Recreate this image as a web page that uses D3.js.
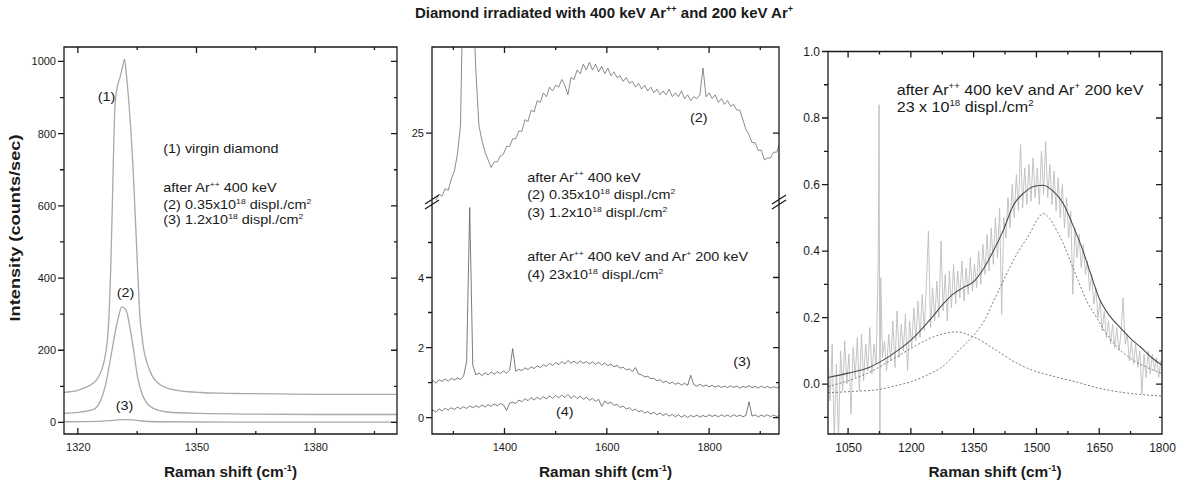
<html>
<head>
  <title>Diamond irradiated with 400 keV Ar++ and 200 keV Ar+</title>
  <script src="https://d3js.org/d3.v7.min.js"></script>
  <style>
    body { margin: 0; background: #fff; }
    svg text { font-family: 'Liberation Sans', Arial, sans-serif; fill: #1a1a1a; }
    .frame { fill: none; stroke: #1a1a1a; stroke-width: 1.3; }
    .spec-light { fill: none; stroke: #a9a9a9; stroke-width: 1.3; }
    .spec-dark { fill: none; stroke: #5a5a5a; stroke-width: 0.8; }
    .spec-noisy { fill: none; stroke: #bdbdbd; stroke-width: 0.9; }
    .fit { fill: none; stroke: #4a4a4a; stroke-width: 1.1; }
    .comp { fill: none; stroke: #7a7a7a; stroke-width: 1; stroke-dasharray: 2,2; }
  </style>
</head>
<body>
<svg id="chart" width="1179" height="488"></svg>

<script type="text/javascript">

  /*--- Left panel: first-order diamond line (counts/sec) ---*/
  var virgin = [[1316.5,83],[1318,85],[1320,89],[1322,97],[1324,110],[1325,122],[1326,145],[1327,190],
    [1327.7,260],[1328.3,420],[1328.8,640],[1329.4,880],[1330,930],[1330.7,957],[1331.3,985],[1331.8,1006],
    [1332.3,960],[1332.8,900],[1333.4,810],[1333.9,717],[1334.4,600],[1334.9,477],[1335.3,380],[1335.7,292],
    [1336.2,240],[1336.7,200],[1337.5,165],[1338.7,131],[1340,112],[1341,103],[1343,94],[1345,89],[1348,85],
    [1351,83],[1356,81],[1362,80],[1370,79],[1380,78],[1390,78],[1400.7,78]];
  var dose035 = [[1316.5,25],[1320,28],[1322,31],[1324,36],[1325.6,57],[1326.9,99],[1328.2,173],[1329.4,247],
    [1330.3,293],[1331.1,320],[1332.2,311],[1333.2,260],[1334.1,200],[1335.1,126],[1336.2,80],[1337.5,53],
    [1339.1,39],[1342.5,29],[1351,25],[1365,23],[1380,22],[1400.7,22]];
  var dose12 = [[1316.5,2],[1325,3],[1328,5],[1330,7],[1332,8],[1334,7],[1336,4],[1340,2],[1360,1],[1400.7,1]];

  var leftXMajor = [1320, 1350, 1380], leftXMinor = [1335, 1365, 1395];
  var leftYMajor = [0, 200, 400, 600, 800, 1000], leftYMinor = [100, 300, 500, 700, 900];

  /*--- Middle panel: shared Raman shift grid ---*/
  var midX = [1258,1260,1266,1272,1278,1284,1290,1296,1302,1308,
    1314,1320,1326,1332,1338,1344,1350,1356,1362,1368,
    1374,1380,1386,1392,1398,1404,1410,1416,1422,1428,
    1434,1440,1446,1452,1458,1464,1470,1476,1482,1488,
    1494,1500,1506,1512,1518,1524,1530,1536,1542,1548,
    1554,1560,1566,1572,1578,1584,1590,1596,1602,1608,
    1614,1620,1626,1632,1638,1644,1650,1656,1662,1668,
    1674,1680,1686,1692,1698,1704,1710,1716,1722,1728,
    1734,1740,1746,1752,1758,1764,1770,1776,1782,1788,
    1794,1800,1806,1812,1818,1824,1830,1836,1842,1848,
    1854,1860,1866,1872,1878,1884,1890,1896,1902,1908,
    1914,1920,1926,1932,1937];
  // (2) 0.35x10^18, upper part of the broken axis
  var mid2 = [21.3,21.4,21.5,21.8,21.7,22.1,22.0,22.6,23.0,23.9,
    25.4,34.2,60,320,32.3,28.3,25.4,24.6,24.0,23.6,
    23.2,23.5,23.5,23.8,23.9,24.3,24.3,24.7,24.7,25.1,
    25.1,25.7,25.6,26.2,26.1,26.7,26.6,27.1,26.9,27.4,
    27.2,27.5,27.4,27.8,27.5,27.0,27.9,27.8,28.3,28.1,
    28.6,28.3,28.7,28.3,28.6,28.2,28.5,28.1,28.4,28.0,
    28.2,27.9,28.0,27.7,27.9,27.6,27.7,27.4,27.6,27.3,
    27.5,27.2,27.4,27.1,27.3,27.0,27.2,27.0,27.3,26.9,
    27.1,26.9,27.2,26.8,27.0,26.7,26.9,26.8,27.0,28.4,
    26.9,27.1,26.8,27.0,26.6,26.8,26.5,26.7,26.4,26.5,
    26.2,26.2,25.7,25.2,24.9,24.5,24.5,24.1,24.1,23.6,
    23.7,23.7,24.0,24.0,24.4];
  // (3) 1.2x10^18, lower part
  var mid3 = [1.00,1.06,0.98,1.08,1.03,1.10,1.04,1.12,1.07,1.13,
    1.09,1.18,1.60,6.00,1.50,1.22,1.27,1.20,1.28,1.22,
    1.30,1.24,1.31,1.26,1.33,1.27,1.35,1.97,1.32,1.38,
    1.34,1.42,1.37,1.45,1.40,1.48,1.43,1.51,1.46,1.55,
    1.49,1.57,1.51,1.60,1.53,1.63,1.55,1.61,1.54,1.62,
    1.55,1.60,1.53,1.59,1.52,1.58,1.50,1.56,1.48,1.53,
    1.45,1.49,1.41,1.44,1.36,1.39,1.31,1.43,1.24,1.22,
    1.16,1.18,1.11,1.12,1.05,1.08,1.00,1.04,0.97,1.01,
    0.95,0.99,0.93,0.98,0.92,1.21,0.94,0.90,0.95,0.89,
    0.93,0.88,0.92,0.87,0.91,0.86,0.90,0.85,0.91,0.86,
    0.90,0.84,0.89,0.86,0.91,0.85,0.89,0.84,0.90,0.85,
    0.89,0.84,0.88,0.85,0.87];
  // (4) 23x10^18, lower part
  var mid4 = [0.16,0.22,0.15,0.25,0.19,0.27,0.21,0.28,0.23,0.30,
    0.25,0.31,0.26,0.33,0.28,0.34,0.29,0.36,0.30,0.37,
    0.32,0.39,0.33,0.40,0.36,0.20,0.41,0.44,0.40,0.50,
    0.45,0.54,0.48,0.57,0.50,0.58,0.52,0.60,0.53,0.62,
    0.55,0.63,0.56,0.64,0.57,0.66,0.55,0.63,0.54,0.61,
    0.52,0.58,0.49,0.55,0.46,0.52,0.32,0.47,0.40,0.44,
    0.35,0.38,0.29,0.33,0.24,0.28,0.20,0.24,0.16,0.20,
    0.13,0.17,0.10,0.15,0.08,0.13,0.06,0.11,0.04,0.09,
    0.02,0.08,0.01,0.07,0.00,0.06,0.02,0.07,0.01,0.06,
    0.02,0.08,0.03,0.07,0.02,0.08,0.03,0.07,0.02,0.08,
    0.03,0.07,0.02,0.06,0.45,0.04,0.08,0.02,0.07,0.03,
    0.08,0.02,0.07,0.03,0.06];

  var midXMajor = [1400, 1600, 1800], midXMinor = [1300, 1500, 1700, 1900];
  var midUpperMajor = [25];
  var midLowerMajor = [0, 2, 4], midLowerMinor = [1, 3, 5];

  /*--- Right panel: 23x10^18 spectrum with fit ---*/
  var rightData = [[1002,0.08],[1007,-0.05],[1012,0.12],[1017,-0.17],[1022,0.06],[1027,-0.17],[1032,0.10],[1037,-0.02],[1042,0.13],[1047,0.00],
    [1052,0.09],[1057,-0.09],[1062,0.11],[1067,0.02],[1072,0.14],[1077,-0.02],[1082,0.15],[1087,0.01],[1092,0.12],[1097,0.04],
    [1102,0.17],[1107,0.03],[1112,0.12],[1117,0.06],[1122,0.37],[1124,0.84],[1126,-0.17],[1128,0.32],[1132,0.08],[1137,0.13],
    [1142,0.04],[1147,0.15],[1152,0.07],[1157,0.19],[1162,0.05],[1167,0.22],[1172,0.08],[1177,0.18],[1182,0.10],[1187,0.21],
    [1192,0.04],[1197,0.19],[1202,0.11],[1207,0.23],[1212,0.13],[1217,0.25],[1222,0.14],[1227,0.27],[1232,0.16],[1237,0.30],
    [1242,0.46],[1247,0.17],[1252,0.29],[1257,0.19],[1262,0.31],[1267,0.20],[1272,0.43],[1277,0.22],[1282,0.33],[1287,0.19],
    [1292,0.34],[1297,0.23],[1302,0.36],[1307,0.24],[1312,0.34],[1317,0.26],[1322,0.37],[1327,0.25],[1332,0.35],[1337,0.27],
    [1342,0.38],[1347,0.28],[1352,0.36],[1357,0.29],[1362,0.40],[1367,0.30],[1372,0.42],[1377,0.33],[1382,0.45],[1387,0.34],
    [1392,0.47],[1397,0.36],[1402,0.50],[1407,0.38],[1412,0.53],[1417,0.21],[1422,0.50],[1427,0.44],[1432,0.56],[1437,0.47],
    [1442,0.60],[1447,0.50],[1452,0.63],[1457,0.52],[1462,0.72],[1467,0.53],[1472,0.65],[1477,0.54],[1482,0.66],[1487,0.55],
    [1492,0.68],[1497,0.56],[1502,0.65],[1507,0.54],[1512,0.70],[1517,0.57],[1522,0.73],[1527,0.56],[1532,0.66],[1537,0.54],
    [1542,0.64],[1547,0.52],[1552,0.62],[1557,0.50],[1562,0.60],[1567,0.47],[1572,0.56],[1577,0.44],[1582,0.52],[1587,0.27],
    [1592,0.47],[1597,0.38],[1602,0.45],[1607,0.35],[1612,0.42],[1617,0.33],[1622,0.37],[1627,0.28],[1632,0.33],[1637,0.24],
    [1642,0.29],[1647,0.20],[1652,0.25],[1657,0.16],[1662,0.22],[1667,0.14],[1672,0.19],[1677,0.12],[1682,0.18],[1687,0.11],
    [1692,0.17],[1697,0.10],[1702,0.15],[1707,0.26],[1712,0.12],[1717,0.15],[1722,0.07],[1727,0.13],[1732,0.06],[1737,0.12],
    [1742,0.05],[1747,0.10],[1752,-0.03],[1757,0.09],[1762,0.02],[1767,0.10],[1772,0.03],[1777,0.09],[1782,0.04],[1787,0.08],
    [1792,0.02],[1797,0.07],[1800,0.04]];
  var rightFit = [[1002,0.02],[1050,0.033],[1100,0.05],[1150,0.085],[1200,0.132],[1250,0.2],[1275,0.238],[1300,0.27],
    [1325,0.29],[1350,0.308],[1375,0.35],[1397,0.40],[1420,0.46],[1445,0.538],[1470,0.575],[1495,0.595],[1516,0.598],
    [1540,0.58],[1564,0.543],[1588,0.475],[1610,0.405],[1630,0.33],[1650,0.258],[1675,0.205],[1700,0.17],[1725,0.137],
    [1750,0.11],[1775,0.08],[1800,0.057]];
  var bandD = [[1002,-0.007],[1050,0.01],[1100,0.035],[1150,0.07],[1200,0.107],[1250,0.14],[1280,0.152],[1310,0.157],
    [1350,0.142],[1400,0.105],[1450,0.065],[1490,0.042],[1530,0.027],[1600,0.005],[1651,-0.013],[1700,-0.024],
    [1747,-0.031],[1800,-0.036]];
  var bandG = [[1002,-0.026],[1060,-0.022],[1125,-0.016],[1160,-0.006],[1200,0.007],[1240,0.028],[1275,0.052],
    [1315,0.102],[1350,0.147],[1375,0.19],[1395,0.243],[1415,0.295],[1435,0.348],[1459,0.403],[1483,0.45],[1500,0.49],
    [1516,0.513],[1532,0.497],[1548,0.463],[1565,0.42],[1580,0.373],[1600,0.31],[1620,0.25],[1644,0.2],[1660,0.165],
    [1690,0.115],[1731,0.072],[1765,0.05],[1800,0.032]];

  var rightXMajor = [1050, 1200, 1350, 1500, 1650, 1800], rightXMinor = [1125, 1275, 1425, 1575, 1725];
  var rightYMajor = [0, 0.2, 0.4, 0.6, 0.8, 1.0], rightYMinor = [-0.1, 0.1, 0.3, 0.5, 0.7, 0.9];

  /*--- Helpers ---*/

  var svg = d3.select("#chart");
  var defs = svg.append("defs");

  function clip(id, x0, y0, x1, y1) {
    defs.append("clipPath").attr("id", id).append("rect")
      .attr("x", x0).attr("y", y0).attr("width", x1 - x0).attr("height", y1 - y0);
    return "url(#" + id + ")";
  }

  /*--- Frame and ticks as ONE path: the box plus a subpath per tick (len < 0 points up / left) ---*/
  function Frame(x0, y0, x1, y1) {
    this.d = "M" + x0 + "," + y0 + "H" + x1 + "V" + y1 + "H" + x0 + "Z";
  }
  Frame.prototype.add = function(scale, values, vertical, pos, len) {
    var self = this;
    values.forEach(function(v) {
      var c = scale(v);
      self.d += vertical ? "M" + pos + "," + c + "h" + len : "M" + c + "," + pos + "v" + len;
    });
  };

  /*--- Labels only from d3 axes (no domain, no tick lines) ---*/
  function labels(g, axis, transform, size) {
    var a = g.append("g").attr("transform", transform).call(axis.tickSize(0))
      .attr("font-size", size).attr("font-family", null);
    a.select(".domain").remove();
    a.selectAll(".tick line").remove();
    a.selectAll(".tick text").attr("fill", "#1a1a1a");
  }

  function xAxes(g, f, x, y0, y1, major, minor, size) {
    labels(g, d3.axisBottom(x).tickValues(major).tickPadding(9).tickFormat(d3.format("d")), "translate(0," + y1 + ")", size);
    f.add(x, major, false, y1, -6);
    f.add(x, minor, false, y1, -3);
    f.add(x, major, false, y0, 6);
    f.add(x, minor, false, y0, 3);
  }

  function yAxes(g, f, y, x0, x1, major, minor, fmt, size) {
    labels(g, d3.axisLeft(y).tickValues(major).tickPadding(8).tickFormat(fmt), "translate(" + x0 + ",0)", size);
    f.add(y, major, true, x0, -6);
    f.add(y, minor, true, x0, -4);
    f.add(y, major, true, x1, -6);
    f.add(y, minor, true, x1, -3);
  }

  /*--- Text with superscripts; parts are strings or {sup: "..."} ---*/
  function note(g, transform, parts, size, bold, anchor) {
    var t = g.append("text")
      .attr("transform", transform)
      .attr("font-size", size)
      .attr("font-weight", bold ? "bold" : "normal")
      .attr("text-anchor", anchor || "start");
    var up = 0;
    parts.forEach(function(p) {
      if (typeof p === "object") {
        t.append("tspan").attr("dy", -size * 0.42).attr("font-size", size * 0.6).text(p.sup);
        up = size * 0.42;
      } else {
        t.append("tspan").attr("dy", up).text(p);
        up = 0;
      }
    });
    return t;
  }

  function at(x, y, sx) { return "translate(" + x + "," + y + ") scale(" + sx + ",1)"; }

  var lineOf = function(x, y, curve) {
    return d3.line().x(function(d) { return x(d[0]); }).y(function(d) { return y(d[1]); }).curve(curve || d3.curveLinear);
  };

  var ramanLabel = ["Raman shift (cm", {sup: "-1"}, ")"];
  var dispLabel = function(tag, dose) { return [tag + " " + dose + "x10", {sup: "18"}, " displ./cm", {sup: "2"}]; };

  /*--- Title and shared y title ---*/
  note(svg, at(604, 18, 1), ["Diamond irradiated with 400 keV Ar", {sup: "++"}, " and 200 keV Ar", {sup: "+"}], 15, true, "middle");
  note(svg, "translate(20,228) rotate(-90) scale(1.3,1)", ["Intensity (counts/sec)"], 14, true, "middle");

  /*--- Left panel ---*/
  var gL = svg.append("g"),
    xL = d3.scaleLinear().domain([1316.5, 1400.7]).range([64, 397]),
    yL = d3.scaleLinear().domain([-32, 1040]).range([434, 47]),
    clipL = clip("clipL", 64, 47, 397, 434),
    fL = new Frame(64, 47, 397, 434);

  [virgin, dose035, dose12].forEach(function(s) {
    gL.append("path").datum(s).attr("class", "spec-light").attr("clip-path", clipL)
      .attr("d", lineOf(xL, yL, d3.curveMonotoneX));
  });
  xAxes(gL, fL, xL, 47, 434, leftXMajor, leftXMinor, 11);
  yAxes(gL, fL, yL, 64, 397, leftYMajor, leftYMinor, d3.format("d"), 11);
  gL.append("path").attr("class", "frame").attr("d", fL.d);

  note(gL, at(97.7, 101, 1.2), ["(1)"], 12);
  note(gL, at(116.7, 297, 1.2), ["(2)"], 12);
  note(gL, at(115.7, 410, 1.2), ["(3)"], 12);
  note(gL, at(163.3, 153, 1.2), ["(1) virgin diamond"], 12);
  note(gL, at(163.3, 192, 1.2), ["after Ar", {sup: "++"}, " 400 keV"], 12);
  note(gL, at(163.3, 209, 1.2), dispLabel("(2)", "0.35"), 12);
  note(gL, at(163.3, 224, 1.2), dispLabel("(3)", "1.2"), 12);
  note(gL, at(230.5, 477, 1.1), ramanLabel, 14, true, "middle");

  /*--- Middle panel (broken y axis) ---*/
  var gM = svg.append("g"),
    xM = d3.scaleLinear().domain([1258.3, 1936.6]).range([432, 779]),
    yMU = d3.scaleLinear().domain([21.5, 29.5]).range([200, 47]),
    yML = d3.scaleLinear().domain([-0.47, 6.3]).range([434, 197]),
    clipMU = clip("clipMU", 432, 47, 779, 200),
    clipML = clip("clipML", 432, 200, 779, 434),
    fM = new Frame(432, 47, 779, 434);

  gM.append("path").datum(d3.zip(midX, mid2)).attr("class", "spec-dark").style("stroke", "#6e6e6e")
    .attr("clip-path", clipMU).attr("d", lineOf(xM, yMU));
  gM.append("path").datum(d3.zip(midX, mid3)).attr("class", "spec-dark")
    .attr("clip-path", clipML).attr("d", lineOf(xM, yML));
  gM.append("path").datum(d3.zip(midX, mid4)).attr("class", "spec-dark")
    .attr("clip-path", clipML).attr("d", lineOf(xM, yML));

  xAxes(gM, fM, xM, 47, 434, midXMajor, midXMinor, 11);
  yAxes(gM, fM, yMU, 432, 779, midUpperMajor, [], d3.format("d"), 11);
  yAxes(gM, fM, yML, 432, 779, midLowerMajor, midLowerMinor, d3.format("d"), 11);
  // break marks on both vertical axes, same path
  [432, 779].forEach(function(bx) {
    [199, 204].forEach(function(by) {
      fM.d += "M" + (bx - 7) + "," + (by + 5) + "L" + (bx + 7) + "," + (by - 4);
    });
  });
  gM.append("path").attr("class", "frame").attr("d", fM.d);

  note(gM, at(690, 122, 1.2), ["(2)"], 12);
  note(gM, at(733.3, 366, 1.2), ["(3)"], 12);
  note(gM, at(556, 416, 1.2), ["(4)"], 12);
  note(gM, at(527.3, 181.5, 1.2), ["after Ar", {sup: "++"}, " 400 keV"], 12);
  note(gM, at(527.3, 199, 1.2), dispLabel("(2)", "0.35"), 12);
  note(gM, at(527.3, 217, 1.2), dispLabel("(3)", "1.2"), 12);
  note(gM, at(527.3, 261, 1.2), ["after Ar", {sup: "++"}, " 400 keV and Ar", {sup: "+"}, " 200 keV"], 12);
  note(gM, at(527.3, 279, 1.2), ["(4) 23x10", {sup: "18"}, " displ./cm", {sup: "2"}], 12);
  note(gM, at(605.5, 477, 1.1), ramanLabel, 14, true, "middle");

  /*--- Right panel ---*/
  var gR = svg.append("g"),
    xR = d3.scaleLinear().domain([1002, 1800]).range([828, 1162]),
    yR = d3.scaleLinear().domain([-0.15, 1.0]).range([434, 51.5]),
    clipR = clip("clipR", 828, 51.5, 1162, 434),
    fR = new Frame(828, 51.5, 1162, 434);

  gR.append("path").datum(rightData).attr("class", "spec-noisy").attr("clip-path", clipR).attr("d", lineOf(xR, yR));
  gR.append("path").datum(bandD).attr("class", "comp").attr("clip-path", clipR).attr("d", lineOf(xR, yR, d3.curveMonotoneX));
  gR.append("path").datum(bandG).attr("class", "comp").attr("clip-path", clipR).attr("d", lineOf(xR, yR, d3.curveMonotoneX));
  gR.append("path").datum(rightFit).attr("class", "fit").attr("clip-path", clipR).attr("d", lineOf(xR, yR, d3.curveMonotoneX));

  xAxes(gR, fR, xR, 51.5, 434, rightXMajor, rightXMinor, 12);
  yAxes(gR, fR, yR, 828, 1162, rightYMajor, rightYMinor, d3.format(".1f"), 12);
  gR.append("path").attr("class", "frame").attr("d", fR.d);

  note(gR, at(896.7, 95, 1.15), ["after Ar", {sup: "++"}, " 400 keV and Ar", {sup: "+"}, " 200 keV"], 14);
  note(gR, at(896.7, 112, 1.15), ["23 x 10", {sup: "18"}, " displ./cm", {sup: "2"}], 14);
  note(gR, at(995, 477, 1.1), ramanLabel, 14, true, "middle");

</script>
</body>
</html>
